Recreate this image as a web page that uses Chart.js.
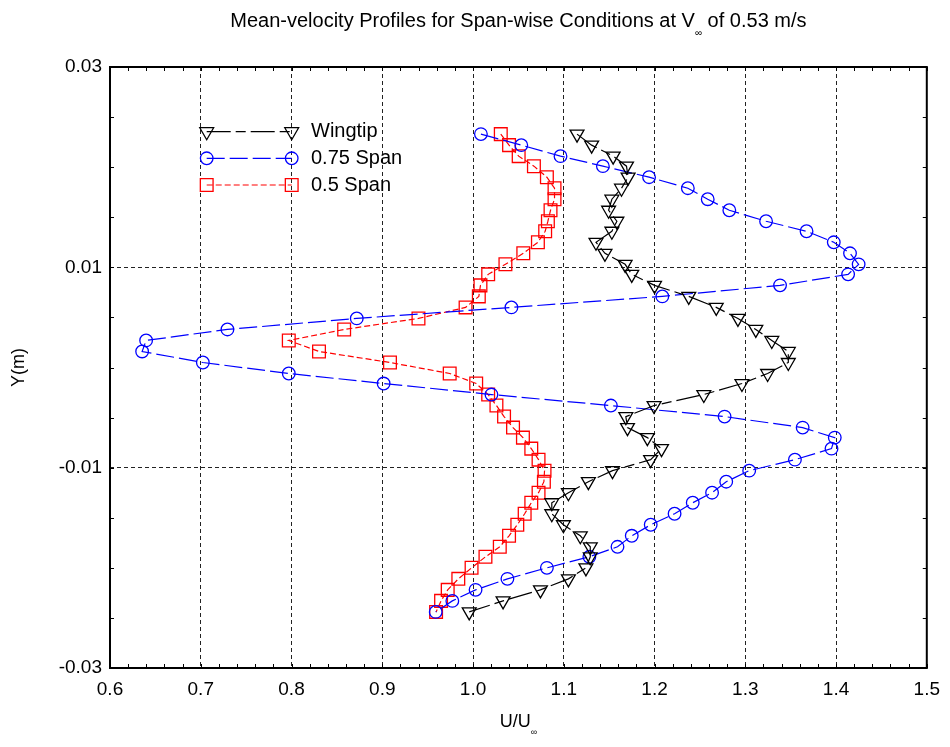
<!DOCTYPE html>
<html>
<head>
<meta charset="utf-8">
<script src="https://cdn.jsdelivr.net/npm/chart.js@4.4.1/dist/chart.umd.min.js"></script>
<style>
  html, body { margin: 0; padding: 0; background: #fff; }
  #wrap { width: 950px; height: 747px; }
</style>
</head>
<body>
<div id="wrap"><canvas id="profileChart" width="950" height="747"></canvas></div>
<script>
// measurement stations (m), shared by all three profiles
const yPositions = [
  0.0233, 0.0222, 0.0211, 0.0201, 0.0190, 0.0179, 0.0168, 0.0157, 0.0146, 0.0136,
  0.0125, 0.0114, 0.0103, 0.0093, 0.0082, 0.0071, 0.0060, 0.0049, 0.0038, 0.0027,
  0.0016, 0.0005, -0.0006, -0.0016, -0.0027, -0.0038, -0.0049, -0.0060, -0.0070, -0.0081,
  -0.0092, -0.0103, -0.0114, -0.0125, -0.0135, -0.0146, -0.0157, -0.0168, -0.0179, -0.0189,
  -0.0200, -0.0211, -0.0222, -0.0233, -0.0244
];

const wingtipU = [
  1.1146, 1.1307, 1.1544, 1.1691, 1.1709, 1.1636, 1.1530, 1.1494, 1.1585, 1.1530,
  1.1355, 1.1454, 1.1676, 1.1749, 1.2000, 1.2377, 1.2680, 1.2919, 1.3116, 1.3292,
  1.3474, 1.3474, 1.3246, 1.2963, 1.2543, 1.1995, 1.1684, 1.1702, 1.1921, 1.2077,
  1.1957, 1.1537, 1.1271, 1.1051, 1.0868, 1.0868, 1.0996, 1.1182, 1.1292, 1.1292,
  1.1244, 1.1051, 1.0743, 1.0331, 0.9958
];

const span075U = [
  1.0087, 1.0532, 1.0964, 1.1431, 1.1940, 1.2367, 1.2586, 1.2824, 1.3229, 1.3675,
  1.3975, 1.4154, 1.4249, 1.4133, 1.3383, 1.2086, 1.0423, 0.8719, 0.7294, 0.6398,
  0.6354, 0.7023, 0.7970, 0.9015, 1.0203, 1.1519, 1.2772, 1.3632, 1.3986, 1.3950,
  1.3547, 1.3043, 1.2790, 1.2634, 1.2421, 1.2221, 1.1958, 1.1749, 1.1592, 1.1282,
  1.0814, 1.0379, 1.0028, 0.9772, 0.9589
];

const span05U = [
  1.0306, 1.0397, 1.0503, 1.0671, 1.0814, 1.0898, 1.0898, 1.0854, 1.0825, 1.0795,
  1.0715, 1.0554, 1.0357, 1.0167, 1.0082, 1.0064, 0.9918, 0.9399, 0.8580, 0.7970,
  0.8303, 0.9085, 0.9743, 1.0035, 1.0167, 1.0258, 1.0342, 1.0441, 1.0550, 1.0642,
  1.0722, 1.0788, 1.0781, 1.0722, 1.0642, 1.0569, 1.0488, 1.0397, 1.0295, 1.0137,
  0.9984, 0.9838, 0.9721, 0.9648, 0.9593
];

const seriesNames = ['Wingtip', '0.75 Span', '0.5 Span'];

const FONT = '"Liberation Sans", Arial, sans-serif';

function toPoints(xs) {
  return xs.map((u, i) => ({ x: u, y: yPositions[i] }));
}

const datasets = [
  {
    label: seriesNames[0],
    data: toPoints(wingtipU),
    borderColor: '#000',
    borderWidth: 1.2,
    borderDash: [24, 5, 10, 5],
    pointStyle: 'triangle',
    pointRotation: 180,
    pointRadius: 8,
    pointBorderWidth: 1.3,
    pointBorderColor: '#000',
    pointBackgroundColor: 'rgba(0,0,0,0)'
  },
  {
    label: seriesNames[1],
    data: toPoints(span075U),
    borderColor: '#0000ff',
    borderWidth: 1.2,
    borderDash: [18, 5],
    pointStyle: 'circle',
    pointRadius: 6.3,
    pointBorderWidth: 1.3,
    pointBorderColor: '#0000ff',
    pointBackgroundColor: 'rgba(0,0,0,0)'
  },
  {
    label: seriesNames[2],
    data: toPoints(span05U),
    borderColor: '#ff0000',
    borderWidth: 1.2,
    borderDash: [6, 3],
    pointStyle: 'rect',
    pointRadius: 9,
    pointBorderWidth: 1.3,
    pointBorderColor: '#ff0000',
    pointBackgroundColor: 'rgba(0,0,0,0)'
  }
];
datasets.forEach(d => { d.showLine = true; d.tension = 0; d.fill = false; });

// marker for the hand drawn legend
function drawMarker(ctx, style, x, y, r) {
  ctx.beginPath();
  if (style === 'triangle') {
    const h = r * Math.sqrt(3) / 2;
    ctx.moveTo(x, y + r);
    ctx.lineTo(x - h, y - r / 2);
    ctx.lineTo(x + h, y - r / 2);
    ctx.closePath();
  } else if (style === 'circle') {
    ctx.arc(x, y, r, 0, Math.PI * 2);
  } else {
    const s = r * Math.SQRT1_2;
    ctx.rect(x - s, y - s, 2 * s, 2 * s);
  }
  ctx.stroke();
}

function drawWithSub(ctx, main1, sub, main2, cx, baseline, size) {
  ctx.font = size + 'px ' + FONT;
  const w1 = ctx.measureText(main1).width;
  const w3 = ctx.measureText(main2).width;
  ctx.font = Math.round(size * 0.5) + 'px ' + FONT;
  const w2 = ctx.measureText(sub).width;
  let x = cx - (w1 + w2 + w3) / 2;
  ctx.textAlign = 'left';
  ctx.textBaseline = 'alphabetic';
  ctx.font = size + 'px ' + FONT;
  ctx.fillText(main1, x, baseline);
  ctx.font = Math.round(size * 0.5) + 'px ' + FONT;
  ctx.fillText(sub, x + w1, baseline + size * 0.45);
  ctx.font = size + 'px ' + FONT;
  ctx.fillText(main2, x + w1 + w2, baseline);
}

const decorPlugin = {
  id: 'decor',
  afterDraw(chart) {
    const ctx = chart.ctx;
    const { left, right, top, bottom } = chart.chartArea;
    const xs = chart.scales.x;
    const ys = chart.scales.y;
    ctx.save();
    ctx.strokeStyle = '#000';
    ctx.lineWidth = 1;
    ctx.setLineDash([]);
    // inward minor ticks
    for (let i = 0; i <= 45; i++) {
      const px = Math.round(xs.getPixelForValue(0.6 + i * 0.02)) + 0.5;
      ctx.beginPath();
      ctx.moveTo(px, bottom); ctx.lineTo(px, bottom - 4);
      ctx.moveTo(px, top); ctx.lineTo(px, top + 4);
      ctx.stroke();
    }
    for (let i = 0; i <= 12; i++) {
      const py = Math.round(ys.getPixelForValue(-0.03 + i * 0.005)) + 0.5;
      ctx.beginPath();
      ctx.moveTo(left, py); ctx.lineTo(left + 4, py);
      ctx.moveTo(right, py); ctx.lineTo(right - 4, py);
      ctx.stroke();
    }
    ctx.lineWidth = 2;
    ctx.strokeRect(left, top, right - left, bottom - top);

    // legend
    const rowY = [131.7, 158.3, 185];
    const x0 = 206.7, x1 = 291.7;
    chart.data.datasets.forEach((ds, i) => {
      const y = rowY[i];
      ctx.strokeStyle = ds.borderColor;
      ctx.lineWidth = ds.borderWidth;
      ctx.setLineDash(ds.borderDash);
      ctx.beginPath();
      ctx.moveTo(x0, y); ctx.lineTo(x1, y);
      ctx.stroke();
      ctx.setLineDash([]);
      ctx.lineWidth = ds.pointBorderWidth;
      drawMarker(ctx, ds.pointStyle, x0, y, ds.pointRadius);
      drawMarker(ctx, ds.pointStyle, x1, y, ds.pointRadius);
      ctx.fillStyle = '#000';
      ctx.font = '20px ' + FONT;
      ctx.textAlign = 'left';
      ctx.textBaseline = 'middle';
      ctx.fillText(ds.label, 311, y);
    });

    // title and axis titles
    ctx.fillStyle = '#000';
    const cx = (left + right) / 2;
    drawWithSub(ctx, 'Mean-velocity Profiles for Span-wise Conditions at V', '\u221e', ' of 0.53 m/s', cx, 27, 20);
    drawWithSub(ctx, 'U/U', '\u221e', '', cx, 727, 18);
    ctx.translate(24, (top + bottom) / 2);
    ctx.rotate(-Math.PI / 2);
    ctx.font = '18px ' + FONT;
    ctx.textAlign = 'center';
    ctx.textBaseline = 'alphabetic';
    ctx.fillText('Y(m)', 0, 0);
    ctx.restore();
  }
};

const ctx = document.getElementById('profileChart').getContext('2d');
const profileChart = new Chart(ctx, {
  type: 'scatter',
  data: { datasets: datasets },
  options: {
    responsive: false,
    animation: false,
    layout: { padding: { left: 0, right: 20, top: 67, bottom: 0 } },
    plugins: {
      legend: { display: false },
      tooltip: { enabled: false },
      title: { display: false }
    },
    scales: {
      x: {
        type: 'linear',
        min: 0.6,
        max: 1.5,
        afterFit: s => { s.height = 79; },
        ticks: {
          stepSize: 0.1,
          padding: 10,
          color: '#000',
          font: { family: FONT, size: 19 },
          callback: v => Number(v).toFixed(1)
        },
        grid: { color: '#222', lineWidth: 1, drawTicks: false },
        border: { display: false, dash: [4, 3] }
      },
      y: {
        type: 'linear',
        min: -0.03,
        max: 0.03,
        afterFit: s => { s.width = 110; },
        ticks: {
          stepSize: 0.02,
          padding: 8,
          color: '#000',
          font: { family: FONT, size: 19 },
          callback: v => Number(v).toFixed(2)
        },
        grid: { color: '#222', lineWidth: 1, drawTicks: false },
        border: { display: false, dash: [4, 3] }
      }
    }
  },
  plugins: [decorPlugin]
});
</script>
</body>
</html>
